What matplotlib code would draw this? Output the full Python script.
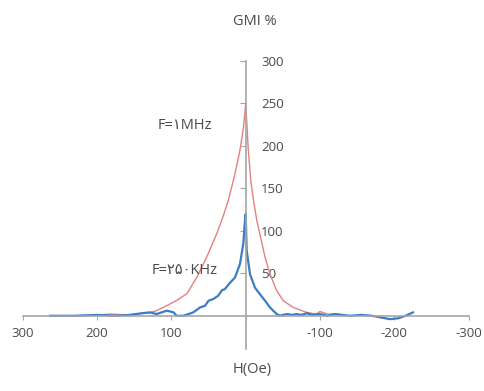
import matplotlib.pyplot as plt
import numpy as np

# GMI (%) against field H (Oe)
h_1mhz = [261, 230, 200, 180, 160, 147, 129, 120, 106, 93, 79, 66, 52.5, 39, 30, 23.4,
          15, 7.7, 3, 0,
          -3.5, -7, -11, -15, -19, -26, -32.7, -41.7, -50.6, -64, -82, -95, -100,
          -110, -120, -131]
gmi_1mhz = [0, 0, 1, 2, 1, 2, 3.5, 6, 12, 18, 26, 45, 69, 96.5, 118, 136,
            165, 195, 222, 250,
            195, 158, 133, 112, 96.5, 69, 49, 29.5, 17.7, 9.8, 4, 2, 5,
            2, 2, 1]

h_250khz = [263, 230, 200, 175, 155.6, 140, 128.7, 120, 106, 97, 93, 84, 77, 70.5, 61.5,
            54.7, 50, 43.6, 37, 32, 28, 21, 14.4, 7.7, 3.2, 1, 0,
            -1.3, -5.8, -12.5, -19, -26, -32.7, -37, -41.7, -46, -50, -56, -62, -68, -75,
            -82, -90, -100, -110, -120, -130, -140, -155, -170, -182, -194, -205, -215, -225]
gmi_250khz = [0, 0, 1, 0, 1, 3, 4, 2, 6, 4, 0, 0, 2, 4, 9.8,
              11.8, 17.7, 19.7, 23.6, 30, 31.5, 39, 45, 61, 85, 112, 120,
              77, 49, 33, 25.6, 17.7, 9.8, 6, 2, 0, 1, 2, 1, 2, 1,
              3, 1, 2, 0, 2, 1, 0, 1, 0, -2, -4, -3, 0, 4]

xticks = [300, 200, 100, 0, -100, -200, -300]
xlabels = ['300', '200', '100', '', '-100', '-200', '-300']
yticks = [50, 100, 150, 200, 250, 300]

txt = '#4a4a4a'
fam = ['Open Sans', 'DejaVu Sans']

fig = plt.figure(figsize=(4.85, 3.91), dpi=100)
ax = fig.add_axes([0.0468, 0.1077, 0.9196, 0.7363])

ax.plot(h_1mhz, gmi_1mhz, color='#e58080', lw=1.0)
ax.plot(h_250khz, gmi_250khz, color='#3d7cc4', lw=1.6)

ax.set_xlim(300, -300)
ax.set_ylim(-39, 300)

for s in ['top', 'left']:
    ax.spines[s].set_visible(False)
ax.spines['bottom'].set_position(('data', 0))
ax.spines['right'].set_position(('data', 0))
for s in ['bottom', 'right']:
    ax.spines[s].set_color('#a6a6a6')
    ax.spines[s].set_linewidth(1.2)

ax.yaxis.tick_right()
ax.set_yticks(yticks)
ax.set_yticklabels([str(v) for v in yticks])
ax.tick_params(axis='y', direction='in', length=4, pad=11, color='#a6a6a6',
               labelcolor=txt, labelsize=9.5)
ax.set_xticks(xticks)
ax.set_xticklabels(xlabels)
ax.tick_params(axis='x', direction='out', length=3, pad=5, color='#a6a6a6',
               labelcolor=txt, labelsize=9.5)
for lab in ax.get_xticklabels() + ax.get_yticklabels():
    lab.set_family(fam)

ax.text(82, 224, 'F=\u06f1MHz', ha='center', va='center', fontsize=10.5, color=txt, family=fam)
ax.text(82, 53, 'F=\u06f2\u06f5\u06f0KHz', ha='center', va='center', fontsize=10.5, color=txt, family=fam)

fig.text(0.526, 0.946, 'GMI %', ha='center', va='center', fontsize=10.5, color=txt, family=fam)
fig.text(0.52, 0.054, 'H(Oe)', ha='center', va='center', fontsize=10.5, color=txt, family=fam)

fig.savefig('out.png', dpi=100)
